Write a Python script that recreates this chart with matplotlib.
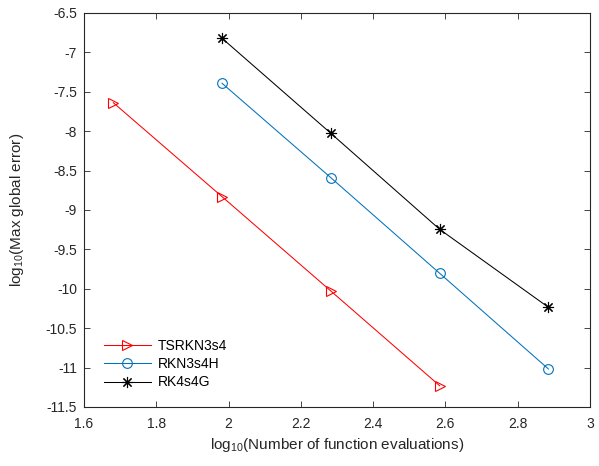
import matplotlib
matplotlib.use("Agg")
import matplotlib.pyplot as plt
from matplotlib.ticker import FuncFormatter

plt.rcParams['font.family'] = ['Liberation Sans', 'DejaVu Sans']
plt.rcParams['mathtext.default'] = 'regular'
plt.rcParams['axes.unicode_minus'] = False

# log10 of function evaluations and max global error
x_tsrkn = [1.681, 1.982, 2.283, 2.584]
y_tsrkn = [-7.638, -8.831, -10.028, -11.23]

x_rkn = [1.982, 2.283, 2.584, 2.885]
y_rkn = [-7.392, -8.590, -9.803, -11.018]

x_rk4 = [1.982, 2.283, 2.584, 2.885]
y_rk4 = [-6.821, -8.027, -9.245, -10.235]

labels = ['TSRKN3s4', 'RKN3s4H', 'RK4s4G']

xticks = [1.6, 1.8, 2.0, 2.2, 2.4, 2.6, 2.8, 3.0]
yticks = [-11.5, -11, -10.5, -10, -9.5, -9, -8.5, -8, -7.5, -7, -6.5]

fig = plt.figure(figsize=(5.99, 4.66), dpi=100)
ax = fig.add_axes([84/599, 1 - 407/466, 506/599, 394/466])

ax.plot(x_tsrkn, y_tsrkn, color='#ff0000', lw=0.75, marker='>', ms=7,
        mfc='none', mec='#ff0000', mew=0.8, label=labels[0])
ax.plot(x_rkn, y_rkn, color='#0072bd', lw=0.75, marker='o', ms=7,
        mfc='none', mec='#0072bd', mew=0.8, label=labels[1])
ax.plot(x_rk4, y_rk4, color='black', lw=0.75, marker=(8, 2, 0), ms=8,
        mec='black', mew=0.8, label=labels[2])

ax.set_xlim(1.6, 3)
ax.set_ylim(-11.5, -6.5)
ax.set_xticks(xticks)
ax.set_yticks(yticks)
fmt = FuncFormatter(lambda v, p: '%g' % v)
ax.xaxis.set_major_formatter(fmt)
ax.yaxis.set_major_formatter(fmt)

ax.tick_params(direction='in', top=True, right=True, length=4, width=0.6,
               colors='#262626', labelsize=10, labelcolor='#262626')
ax.tick_params(axis='x', pad=7)
ax.tick_params(axis='y', pad=5)
for s in ax.spines.values():
    s.set_color('#262626')
    s.set_linewidth(0.8)

ax.set_xlabel('log$_{10}$(Number of function evaluations)', fontsize=11,
              color='#262626', labelpad=4)
ax.set_ylabel('log$_{10}$(Max global error)', fontsize=11,
              color='#262626', labelpad=14)

ax.legend(loc='lower left', frameon=False, fontsize=10, handlelength=3.4,
          handletextpad=0.5, labelspacing=0.3, borderaxespad=0.3,
          bbox_to_anchor=(0.02, 0.02))

fig.savefig('out.png', dpi=100)
